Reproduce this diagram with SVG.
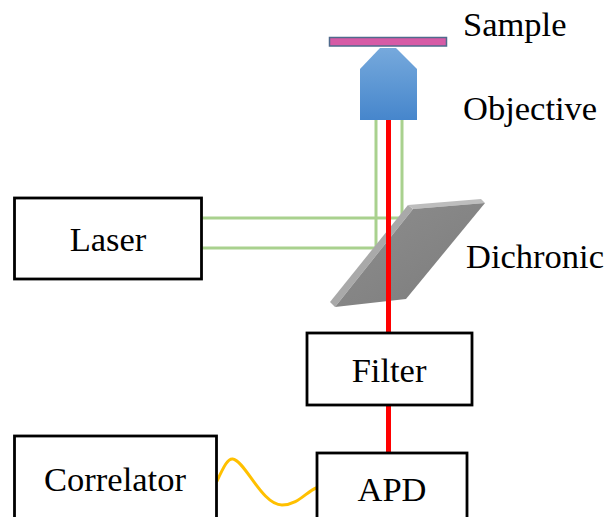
<svg xmlns="http://www.w3.org/2000/svg" width="607" height="517" viewBox="0 0 607 517">
  <style>
    .box { fill: #ffffff; stroke: #000000; stroke-width: 2.8; }
    .lbl { font-family: "Liberation Serif", "Times New Roman", serif; font-size: 34.5px; fill: #000000; }
    .mid { text-anchor: middle; }
    .green { stroke: #a9d18e; stroke-width: 3; fill: none; }
    .red { stroke: #ff0000; stroke-width: 5; fill: none; }
    .signal { stroke: #ffc000; stroke-width: 3; fill: none; stroke-linecap: round; }
  </style>
  <defs>
    <linearGradient id="objGrad" x1="0" y1="0" x2="0" y2="1">
      <stop offset="0" stop-color="#76a9dc"/>
      <stop offset="1" stop-color="#4686cc"/>
    </linearGradient>
    <linearGradient id="plateGrad" x1="0" y1="0" x2="1" y2="1">
      <stop offset="0" stop-color="#8e8e8e"/>
      <stop offset="1" stop-color="#7c7c7c"/>
    </linearGradient>
  </defs>

  <rect width="607" height="517" fill="#ffffff"/>

  <!-- excitation beam (green) -->
  <g id="connectors">
    <polyline class="green" points="201,218 402,218 402,120"/>
    <polyline class="green" points="201,248 376,248 376,120"/>
  </g>

  <!-- sample slide -->
  <g id="sample">
    <rect x="329.5" y="37.5" width="117" height="8.5" fill="#d65ba6" stroke="#4f6a8c" stroke-width="1.5"/>
    <text class="lbl" x="463" y="36">Sample</text>
  </g>

  <!-- objective lens -->
  <g id="objective">
    <polygon points="380,48 396,48 417,69 417,120 360,120 360,69" fill="url(#objGrad)"/>
    <text class="lbl" x="463" y="120">Objective</text>
  </g>

  <!-- dichroic plate -->
  <g id="dichroic">
    <polygon points="408,205 413,209 335,307 330,302" fill="#a9a9a9"/>
    <polygon points="408,205 481,199 485,203 413,209" fill="#bdbdbd"/>
    <polygon points="413,209 485,203 406,299 335,307" fill="url(#plateGrad)"/>
    <text class="lbl" x="466" y="268">Dichronic</text>
  </g>

  <!-- emission path (red) and detector signal -->
  <g id="emission">
    <line class="red" x1="388.5" y1="120" x2="388.5" y2="453"/>
    <path class="signal" d="M217,481 C224,466 228,458 233,459 C245,461 262,505 282,505 C298,505 306,492 316,488"/>
  </g>

  <g id="laser">
    <rect class="box" x="14.5" y="198" width="187" height="81"/>
    <text class="lbl mid" x="108" y="251">Laser</text>
  </g>

  <g id="filter">
    <rect class="box" x="307" y="333" width="165" height="72"/>
    <text class="lbl mid" x="389" y="382">Filter</text>
  </g>

  <g id="correlator">
    <rect class="box" x="14.5" y="436" width="202" height="90"/>
    <text class="lbl mid" x="115" y="491">Correlator</text>
  </g>

  <g id="apd">
    <rect class="box" x="317" y="453" width="150" height="80"/>
    <text class="lbl mid" x="392" y="501">APD</text>
  </g>
</svg>
